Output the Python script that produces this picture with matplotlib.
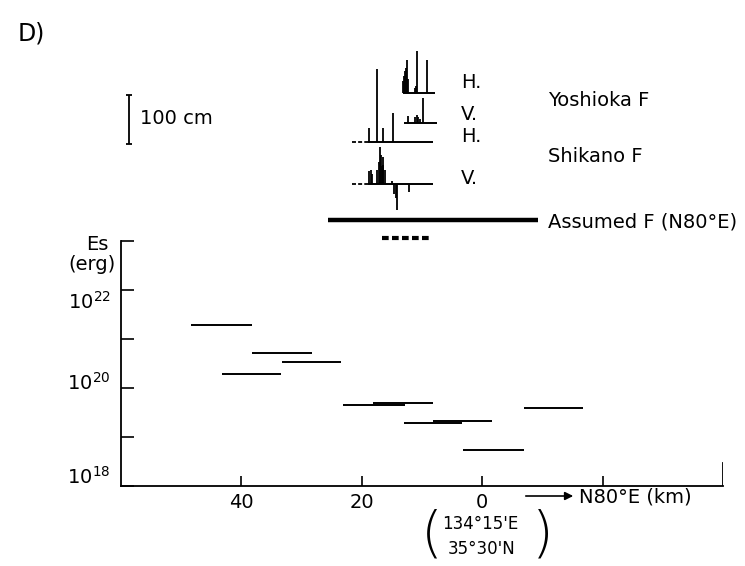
import matplotlib

matplotlib.use("Agg")

import matplotlib.pyplot as plt
import matplotlib.transforms as mtransforms

W, H = 745, 566

# seismic energy per sub-event (lower panel)
es_start_km = [48.3, 38.2, 33.3, 43.2, 23.1, 18.1, 8.2, 13.0, -6.9, 3.2]
es_end_km = [38.2, 28.3, 23.5, 33.4, 12.9, 8.1, -1.7, 3.4, -16.8, -7.0]
es_erg = [1.9e21, 5.1e20, 3.4e20, 1.9e20, 4.6e19, 4.9e19, 2.1e19, 1.9e19, 3.9e19, 5.4e18]

x_ticks = [40, 20, 0, -20]
x_tick_labels = ["40", "20", "0", ""]
y_ticks = [1e18, 1e19, 1e20, 1e21, 1e22, 1e23]

# fault displacements (cm) along strike (km)
yoshioka_h_km = [13.1, 12.95, 12.8, 12.65, 12.5, 12.35, 11.2, 11.0, 10.8, 9.17]
yoshioka_h_cm = [25, 35, 45, 52, 68, 30, 10, 15, 86, 68]
yoshioka_h_span = (13.2, 7.8)

yoshioka_v_km = [12.3, 11.1, 10.9, 10.6, 10.3, 9.8]
yoshioka_v_cm = [14, 12, 16, 13, 8, 52]
yoshioka_v_span = (12.95, 7.45)

shikano_h_km = [18.8, 17.5, 16.45, 14.85]
shikano_h_cm = [30, 149, 30, 60]
shikano_h_span = (19.0, 8.1)

shikano_v_km = [18.75, 18.55, 18.35, 17.4, 17.2, 17.0, 16.85, 16.7, 16.55, 16.4, 16.2,
                15.0, 14.6, 14.4, 14.1, 12.2]
shikano_v_cm = [28, 30, 22, 30, 45, 76, 60, 38, 40, 57, 30,
                7, -20, -27, -52, -15]
shikano_v_span = (19.0, 8.1)
shikano_dashed_span = (21.7, 19.0)

assumed_f_span = (25.6, -9.2)
assumed_dash_span = (16.7, 8.5)


def fig_xy(x, y):
    """pixel position in the reference -> figure fraction"""
    return x / W, 1 - y / H


fig = plt.figure(figsize=(W / 100, H / 100), dpi=100)
plt.rcParams["font.family"] = "DejaVu Sans"
FS = 14

left, right = 121 / W, 723 / W
ax = fig.add_axes([left, 1 - 486 / H, right - left, 245 / H])
ax_top = fig.add_axes([left, 1 - 245 / H, right - left, 225 / H])

# ---- lower panel: Es ----
ax.set_yscale("log")
ax.set_xlim(60, -40)
ax.set_ylim(1e18, 1e23)
ax.hlines(es_erg, es_start_km, es_end_km, colors="black", lw=1.4)

for side in ("top", "right"):
    ax.spines[side].set_visible(False)
for side in ("left", "bottom"):
    ax.spines[side].set_linewidth(1.3)

ax.set_xticks(x_ticks)
ax.set_xticklabels(x_tick_labels, fontsize=FS)
ax.tick_params(axis="x", direction="in", length=7, width=1.2, pad=5)
ax.set_yticks(y_ticks)
ax.set_yticklabels([""] * len(y_ticks))
ax.minorticks_off()
ax.tick_params(axis="y", direction="in", length=9, width=1.2)
ax.axvline(-40, ymin=0, ymax=0.095, color="black", lw=1.3)

trans = mtransforms.blended_transform_factory(ax.transAxes, ax.transData)
for val, lab in [(10 ** 21.76, "$10^{22}$"), (10 ** 20.1, "$10^{20}$"), (10 ** 18.18, "$10^{18}$")]:
    ax.text(-0.017, val, lab, transform=trans, ha="right", va="center", fontsize=FS)

fig.text(*fig_xy(109, 245), "Es", ha="right", va="center", fontsize=FS)
fig.text(*fig_xy(116, 264), "(erg)", ha="right", va="center", fontsize=FS)

# direction arrow and origin coordinates
fig.add_artist(matplotlib.patches.FancyArrowPatch(
    fig_xy(523, 496), fig_xy(576, 496), transform=fig.transFigure,
    arrowstyle="-|>", mutation_scale=12, lw=1.2, color="black"))
fig.text(*fig_xy(579, 497), "N80°E (km)", ha="left", va="center", fontsize=FS)
fig.text(*fig_xy(480, 524), "134°15'E", ha="center", va="center", fontsize=FS - 2)
fig.text(*fig_xy(482, 549), "35°30'N", ha="center", va="center", fontsize=FS - 2)
fig.text(*fig_xy(432, 536), "(", ha="center", va="center", fontsize=40, fontweight="light")
fig.text(*fig_xy(543, 536), ")", ha="center", va="center", fontsize=40, fontweight="light")

# ---- upper panel: slip distributions ----
ax_top.set_xlim(60, -40)
ax_top.set_ylim(0, 225 / 0.49)
ax_top.axis("off")

traces = [
    (yoshioka_h_km, yoshioka_h_cm, yoshioka_h_span, 309.6),
    (yoshioka_v_km, yoshioka_v_cm, yoshioka_v_span, 248.4),
    (shikano_h_km, shikano_h_cm, shikano_h_span, 209.2),
    (shikano_v_km, shikano_v_cm, shikano_v_span, 123.5),
]
for km, cm, span, base in traces:
    ax_top.hlines(base, span[0], span[1], colors="black", lw=1.4)
    ax_top.vlines(km, base, [base + c for c in cm], colors="black", lw=1.3)

for base in (209.2, 123.5):
    ax_top.plot(shikano_dashed_span, [base, base], color="black", lw=1.3, dashes=(2.2, 1.2))

ax_top.plot(assumed_f_span, [51.6, 51.6], color="black", lw=3.2, solid_capstyle="butt")
ax_top.plot(assumed_dash_span, [14.3, 14.3], color="black", lw=3.0, dashes=(1.6, 0.8))

# 100 cm scale bar
ax_top.vlines(58.6, 206, 306, colors="black", lw=1.3)
ax_top.hlines([206, 306], 59.1, 58.1, colors="black", lw=1.3)

fig.text(*fig_xy(140, 118), "100 cm", ha="left", va="center", fontsize=FS)
fig.text(*fig_xy(18, 34), "D)", ha="left", va="center", fontsize=17)

for y, lab in [(82, "H."), (114, "V."), (137, "H."), (179, "V.")]:
    fig.text(*fig_xy(461, y), lab, ha="left", va="center", fontsize=FS)
for y, lab in [(101, "Yoshioka F"), (157, "Shikano F"), (222, "Assumed F (N80°E)")]:
    fig.text(*fig_xy(548, y), lab, ha="left", va="center", fontsize=FS)

fig.savefig("out.png", dpi=100)
